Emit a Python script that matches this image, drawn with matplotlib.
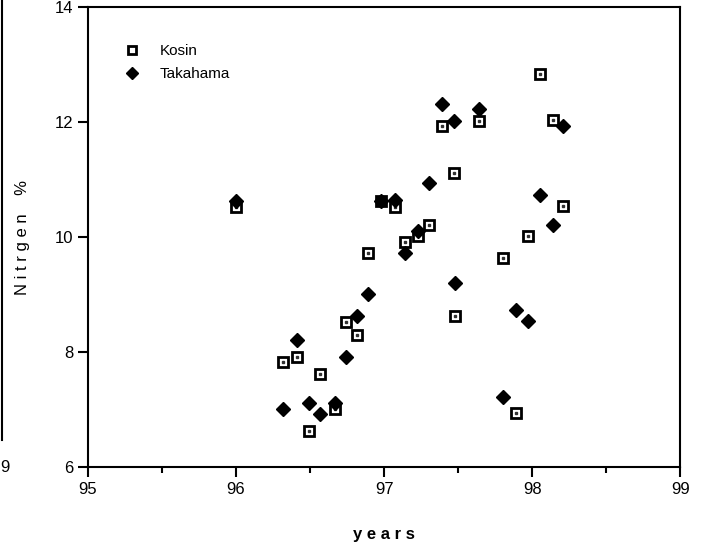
import numpy as np
import matplotlib.pyplot as plt
from matplotlib.ticker import MultipleLocator
from matplotlib.lines import Line2D

plt.rcParams['font.family'] = ['Liberation Sans', 'DejaVu Sans']

# Kosin (open squares)
kosin_year = [96.0, 96.32, 96.41, 96.49, 96.57, 96.67, 96.74, 96.82, 96.89, 96.98,
              97.07, 97.14, 97.23, 97.30, 97.39, 97.47, 97.48, 97.64, 97.80, 97.89,
              97.97, 98.05, 98.14, 98.21]
kosin_n = [10.52, 7.83, 7.91, 6.63, 7.62, 7.01, 8.52, 8.30, 9.72, 10.63,
           10.52, 9.91, 10.02, 10.21, 11.93, 11.12, 8.63, 12.02, 9.63, 6.94,
           10.02, 12.83, 12.03, 10.54]

# Takahama (filled diamonds)
taka_year = [96.0, 96.32, 96.41, 96.49, 96.57, 96.67, 96.74, 96.82, 96.89, 96.98,
             97.07, 97.14, 97.23, 97.30, 97.39, 97.47, 97.48, 97.64, 97.80, 97.89,
             97.97, 98.05, 98.14, 98.21]
taka_n = [10.63, 7.01, 8.21, 7.11, 6.92, 7.11, 7.91, 8.63, 9.01, 10.63,
          10.64, 9.72, 10.10, 10.94, 12.31, 12.02, 9.20, 12.23, 7.22, 8.73,
          8.54, 10.73, 10.21, 11.93]

fig = plt.figure(figsize=(7.01, 5.52), dpi=100)
ax = fig.add_axes([0.1255, 0.154, 0.845, 0.833])

ax.plot(kosin_year, kosin_n, linestyle='none', marker='s', markersize=7,
        markerfacecolor='white', markeredgecolor='black', markeredgewidth=2,
        label='Kosin')
ax.plot(kosin_year, kosin_n, linestyle='none', marker='s', markersize=1.5,
        color='#333333')
ax.plot(taka_year, taka_n, linestyle='none', marker='D', markersize=7,
        color='black', label='Takahama')

ax.set_xlim(95, 99)
ax.set_ylim(6, 14)
ax.xaxis.set_major_locator(MultipleLocator(1))
ax.xaxis.set_minor_locator(MultipleLocator(0.5))
ax.yaxis.set_major_locator(MultipleLocator(2))
ax.tick_params(axis='both', which='major', direction='out', length=7, width=1.5,
               labelsize=12, top=False, right=False)
ax.tick_params(axis='x', which='minor', direction='out', length=4, width=1.5)
for s in ax.spines.values():
    s.set_linewidth(1.5)

ax.set_xlabel('y e a r s', fontsize=12, fontweight='bold', labelpad=22)
ax.set_ylabel('N i t r g e n    %', fontsize=12, labelpad=18)

h = [Line2D([], [], linestyle='none', marker='s', markersize=6, markerfacecolor='white',
            markeredgecolor='black', markeredgewidth=2),
     Line2D([], [], linestyle='none', marker='D', markersize=6, color='black')]
ax.legend(h, ['Kosin', 'Takahama'], loc='upper left', bbox_to_anchor=(0.025, 0.95),
          frameon=False, fontsize=11, handletextpad=0.8, labelspacing=0.6)

# fragment of neighbouring figure on the left edge
fig.text(0.0, 1 - 467 / 552, '9', fontsize=12, va='center', ha='left')
fig.add_artist(Line2D([0.003, 0.003], [1 - 440 / 552, 1.0], color='black', linewidth=1.5))

fig.savefig('out.png', dpi=100)
